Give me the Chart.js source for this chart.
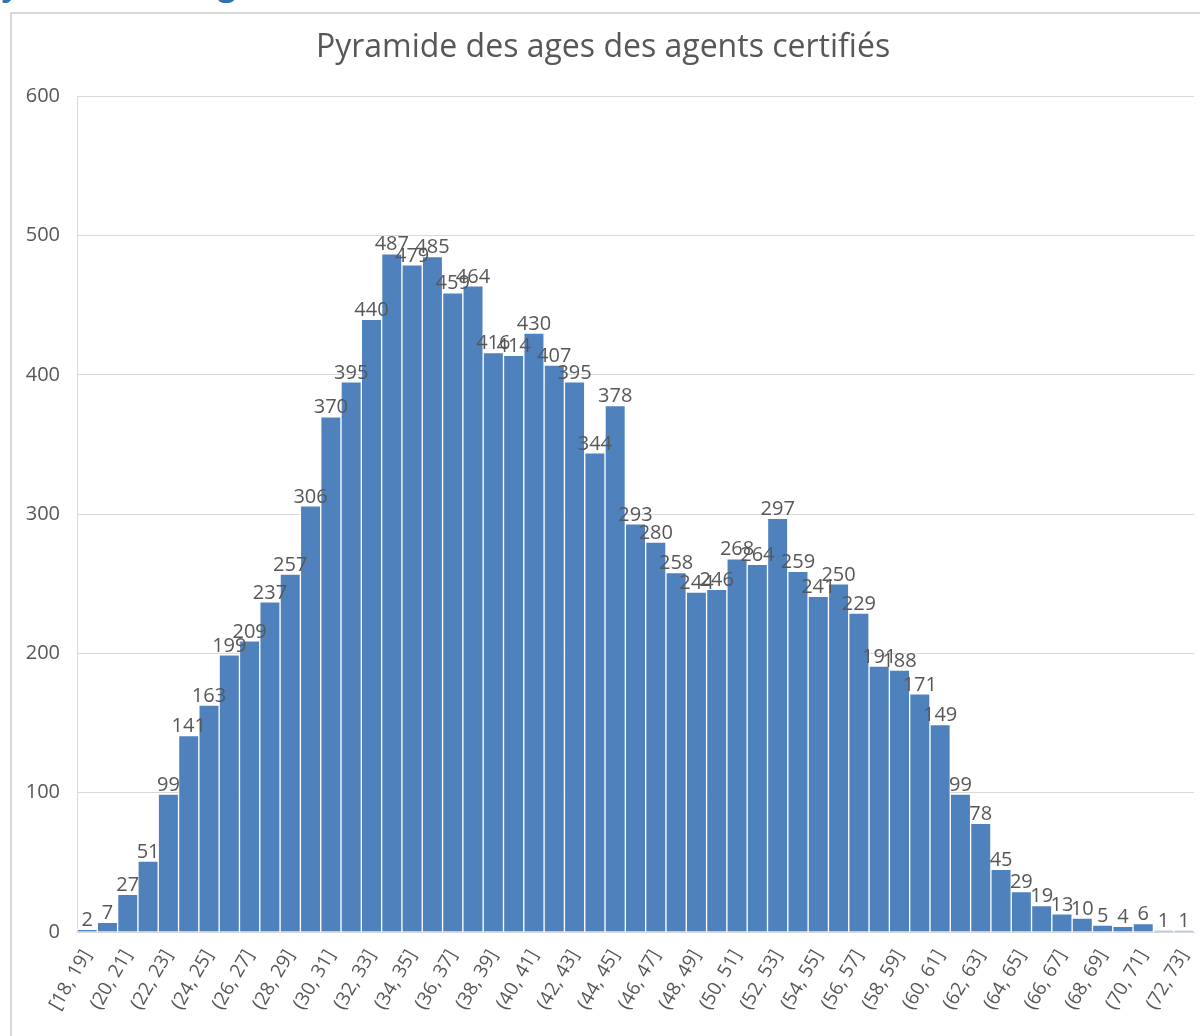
<!DOCTYPE html>
<html>
<head>
<meta charset="utf-8">
<script src="https://cdn.jsdelivr.net/npm/chart.js@4.4.1/dist/chart.umd.min.js"></script>
<style>
  html, body { margin: 0; padding: 0; background: #fff; overflow: hidden; width: 1200px; height: 1036px; }
  #heading { position: absolute; left: -18px; top: -37px; font: bold 31px 'Open Sans', sans-serif; color: #2E74B5; white-space: nowrap; }
  #frame { position: absolute; left: 10px; top: 12px; width: 1230px; height: 1080px; border: 2px solid #D9D9D9; box-sizing: border-box; background: #fff; }
  #wrap { position: absolute; left: 12px; top: 14px; width: 1196px; height: 1030px; }
</style>
</head>
<body>
<div id="heading">Pyramide des ages</div>
<div id="frame"></div>
<div id="wrap"><canvas id="ageChart"></canvas></div>
<script>
// tranches d'age (un label affiché sur deux)
const ageLabels = [
    "[18, 19]", "(19, 20]", "(20, 21]", "(21, 22]", "(22, 23]", "(23, 24]", "(24, 25]", "(25, 26]",
    "(26, 27]", "(27, 28]", "(28, 29]", "(29, 30]", "(30, 31]", "(31, 32]", "(32, 33]", "(33, 34]",
    "(34, 35]", "(35, 36]", "(36, 37]", "(37, 38]", "(38, 39]", "(39, 40]", "(40, 41]", "(41, 42]",
    "(42, 43]", "(43, 44]", "(44, 45]", "(45, 46]", "(46, 47]", "(47, 48]", "(48, 49]", "(49, 50]",
    "(50, 51]", "(51, 52]", "(52, 53]", "(53, 54]", "(54, 55]", "(55, 56]", "(56, 57]", "(57, 58]",
    "(58, 59]", "(59, 60]", "(60, 61]", "(61, 62]", "(62, 63]", "(63, 64]", "(64, 65]", "(65, 66]",
    "(66, 67]", "(67, 68]", "(68, 69]", "(69, 70]", "(70, 71]", "(71, 72]", "(72, 73]"
];

const agentCounts = [
    2, 7, 27, 51, 99, 141, 163, 199, 209, 237, 257, 306, 370, 395, 440, 487,
    479, 485, 459, 464, 416, 414, 430, 407, 395, 344, 378, 293, 280, 258, 244, 246,
    268, 264, 297, 259, 241, 250, 229, 191, 188, 171, 149, 99, 78, 45, 29, 19,
    13, 10, 5, 4, 6, 1, 1
];

const yTicks = [0, 100, 200, 300, 400, 500, 600];

const TEXT_GREY = "#575757";
const FONT = "'Open Sans', sans-serif";

// étiquettes de valeur au-dessus des barres (comme Excel)
const valueLabels = {
    id: "valueLabels",
    afterDatasetsDraw(chart) {
        const ctx = chart.ctx;
        const meta = chart.getDatasetMeta(0);
        ctx.save();
        ctx.font = "20px " + FONT;
        ctx.fillStyle = TEXT_GREY;
        ctx.textAlign = "center";
        ctx.textBaseline = "bottom";
        meta.data.forEach((bar, i) => {
            ctx.fillText(String(agentCounts[i]), bar.x, bar.y + 1);
        });
        ctx.restore();
    }
};

new Chart(document.getElementById("ageChart"), {
    type: "bar",
    data: {
        labels: ageLabels,
        datasets: [{
            data: agentCounts,
            backgroundColor: "#4F81BD",
            borderColor: "#ffffff",
            borderWidth: 1,
            barPercentage: 1,
            categoryPercentage: 1
        }]
    },
    options: {
        responsive: true,
        maintainAspectRatio: false,
        animation: false,
        layout: { padding: { left: 0, right: 14, top: 0, bottom: 0 } },
        plugins: {
            legend: { display: false },
            tooltip: { enabled: false },
            title: {
                display: true,
                text: "Pyramide des ages des agents certifiés",
                color: TEXT_GREY,
                font: { family: FONT, size: 32, weight: "normal", lineHeight: 1.2 },
                padding: { top: 15, bottom: 29 }
            }
        },
        scales: {
            x: {
                grid: { display: false, drawTicks: false },
                border: { display: true, color: "#D9D9D9", width: 1 },
                ticks: {
                    autoSkip: false,
                    minRotation: 60,
                    maxRotation: 60,
                    padding: 14,
                    color: TEXT_GREY,
                    font: { family: FONT, size: 19 },
                    callback: (v, i) => (i % 2 === 0 ? ageLabels[i] : "")
                },
                afterFit: (scale) => {
                    scale.height = 112;
                    // pas de marge supplémentaire pour les labels inclinés
                    scale.paddingLeft = 0;
                    scale.paddingRight = 0;
                }
            },
            y: {
                min: 0,
                max: 600,
                grid: { color: "#D9D9D9", drawTicks: false },
                border: { display: true, color: "#D9D9D9", width: 1 },
                afterBuildTicks: (scale) => { scale.ticks = yTicks.map(v => ({ value: v })); },
                ticks: {
                    padding: 17,
                    color: TEXT_GREY,
                    font: { family: FONT, size: 20 }
                },
                afterFit: (scale) => { scale.width = 65; }
            }
        }
    },
    plugins: [valueLabels]
});
</script>
</body>
</html>
